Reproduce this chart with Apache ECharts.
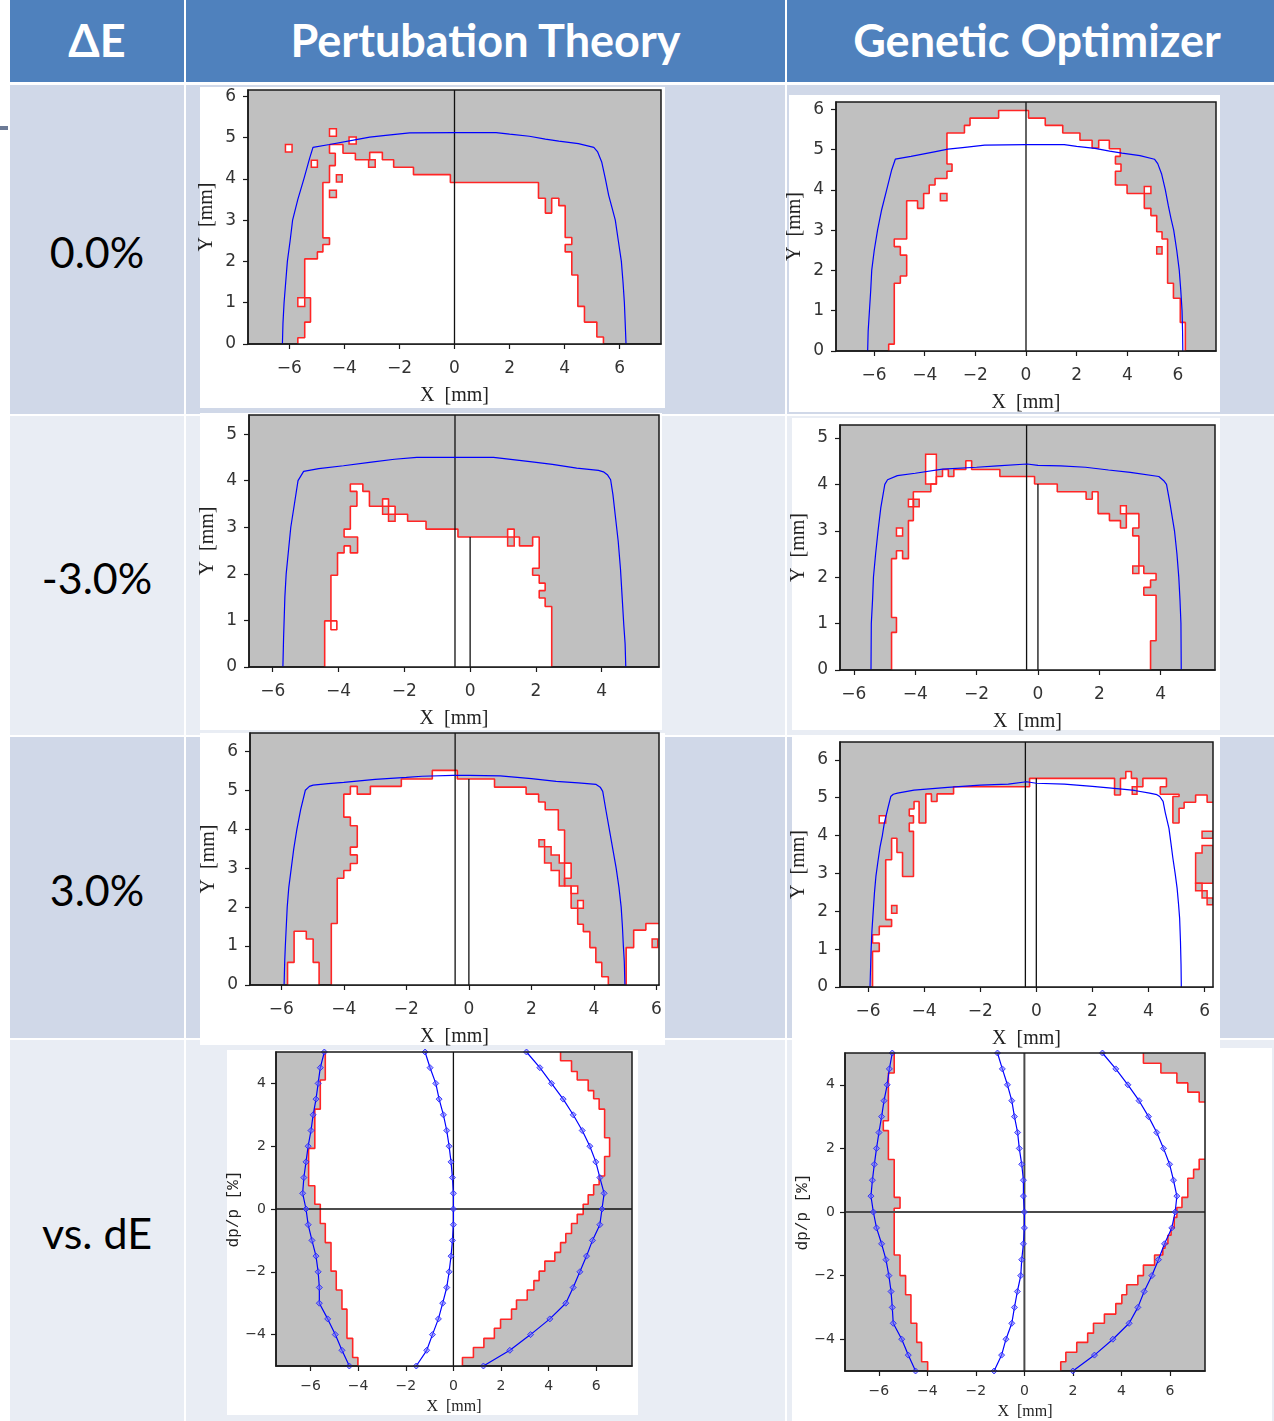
<!DOCTYPE html>
<html><head><meta charset="utf-8">
<script src="https://cdn.jsdelivr.net/npm/echarts@6/dist/echarts.min.js"></script>
<style>
html,body{margin:0;padding:0;}
body{width:1274px;height:1421px;position:relative;overflow:hidden;background:#fff;font-family:Lato,sans-serif;}
.c{position:absolute;box-sizing:border-box;}
.h{background:#4f81bd;color:#fff;font-weight:bold;font-size:45px;display:flex;align-items:center;justify-content:center;padding-bottom:3px;}
.d{background:#d0d8e8;}
.l{background:#e9edf4;}
.lab{font-size:43px;color:#000;display:flex;align-items:center;justify-content:center;padding-top:4px;}
.p{background:#fff;}
#chart{position:absolute;left:0;top:0;width:1274px;height:1421px;}
</style></head><body>
<div class="c h" style="left:10px;top:0;width:174px;height:82px;">ΔE</div>
<div class="c h" style="left:186px;top:0;width:599px;height:82px;">Pertubation Theory</div>
<div class="c h" style="left:787px;top:0;width:500px;height:82px;">Genetic Optimizer</div>

<div class="c d lab" style="left:10px;top:85px;width:174px;height:329px;">0.0%</div>
<div class="c d" style="left:186px;top:85px;width:599px;height:329px;"></div>
<div class="c d" style="left:787px;top:85px;width:500px;height:329px;"></div>

<div class="c l lab" style="left:10px;top:416px;width:174px;height:319px;">-3.0%</div>
<div class="c l" style="left:186px;top:416px;width:599px;height:319px;"></div>
<div class="c l" style="left:787px;top:416px;width:500px;height:319px;"></div>

<div class="c d lab" style="left:10px;top:737px;width:174px;height:301px;">3.0%</div>
<div class="c d" style="left:186px;top:737px;width:599px;height:301px;"></div>
<div class="c d" style="left:787px;top:737px;width:500px;height:301px;"></div>

<div class="c l lab" style="left:10px;top:1040px;width:174px;height:381px;">vs. dE</div>
<div class="c l" style="left:186px;top:1040px;width:599px;height:381px;"></div>
<div class="c l" style="left:787px;top:1040px;width:500px;height:381px;"></div>

<div class="c" style="left:0;top:126px;width:8px;height:4px;background:#6c7a96;"></div>

<div class="c p" style="left:200px;top:87px;width:465px;height:321px;"></div>
<div class="c p" style="left:789px;top:95px;width:431px;height:317px;"></div>
<div class="c p" style="left:200px;top:413px;width:462px;height:317px;"></div>
<div class="c p" style="left:792px;top:418px;width:428px;height:312px;"></div>
<div class="c p" style="left:200px;top:733px;width:465px;height:312px;"></div>
<div class="c p" style="left:792px;top:737px;width:428px;height:311px;"></div>
<div class="c p" style="left:227px;top:1050px;width:411px;height:365px;"></div>
<div class="c p" style="left:792px;top:1048px;width:480px;height:373px;"></div>

<div id="chart"></div>
<script>
// ---------- tick labels ----------
const xTicksWide = [-6,-4,-2,0,2,4,6];
const xTicksNarrow = [-6,-4,-2,0,2,4];
const yTicks6 = [0,1,2,3,4,5,6];
const yTicks5 = [0,1,2,3,4,5];
const dpTicks = [-4,-2,0,2,4];
const dpValues = [5,4.5,4,3.5,3,2.5,2,1.5,1,0.5,0,-0.5,-1,-1.5,-2,-2.5,-3,-3.5,-4,-4.5,-5];

// ---------- Perturbation theory, dE = 0.0% ----------
const pt0_boundary = [[-5.69,0],[-5.69,0.15],[-5.44,0.15],[-5.44,0.53],[-5.23,0.53],[-5.23,1.12],[-5.44,1.12],[-5.44,2.06],[-4.98,2.06],[-4.98,2.23],[-4.78,2.23],[-4.78,2.41],[-4.54,2.41],[-4.54,2.57],[-4.78,2.57],[-4.78,3.91],[-4.54,3.91],[-4.54,4.32],[-4.33,4.32],[-4.33,4.62],[-4.54,4.62],[-4.54,4.83],[-4.05,4.83],[-4.05,4.62],[-3.60,4.62],[-3.60,4.46],[-3.08,4.46],[-3.08,4.64],[-2.62,4.64],[-2.62,4.46],[-2.21,4.46],[-2.21,4.28],[-1.49,4.28],[-1.49,4.10],[-0.15,4.10],[-0.15,3.91],[3.05,3.91],[3.05,3.53],[3.30,3.53],[3.30,3.17],[3.53,3.17],[3.53,3.53],[3.79,3.53],[3.79,3.35],[4.02,3.35],[4.02,2.58],[4.26,2.58],[4.26,2.41],[4.02,2.41],[4.02,2.23],[4.26,2.23],[4.26,1.67],[4.48,1.67],[4.48,0.91],[4.72,0.91],[4.72,0.53],[5.17,0.53],[5.17,0.17],[5.41,0.17],[5.41,0]];
const pt0_whiteRects = [[-6.14,4.65,-5.90,4.83],[-5.20,4.28,-4.98,4.45],[-4.54,5.03,-4.29,5.21],[-3.83,4.84,-3.57,5.01],[-5.69,0.91,-5.44,1.12]];
const pt0_grayRects = [[-4.29,3.92,-4.08,4.10],[-4.54,3.55,-4.29,3.72],[-3.12,4.28,-2.88,4.46]];
const pt0_beam = [[-6.25,0],[-6.23,0.5],[-6.19,1],[-6.13,1.5],[-6.07,2],[-5.97,2.5],[-5.88,3],[-5.69,3.5],[-5.47,4],[-5.26,4.5],[-5.14,4.76],[-4.54,4.83],[-3.57,4.95],[-3.08,5.01],[-2.5,5.05],[-1.63,5.11],[0,5.12],[1.51,5.12],[2,5.08],[2.72,5.03],[3.3,4.96],[3.79,4.91],[4.5,4.85],[5.06,4.76],[5.2,4.65],[5.35,4.4],[5.48,4.0],[5.6,3.6],[5.72,3.3],[5.84,3.0],[5.95,2.5],[6.06,2.0],[6.12,1.5],[6.17,1.0],[6.2,0.5],[6.23,0]];
const pt0_guides = [[[0,0],[0,6.15]]];

// ---------- Genetic optimizer, dE = 0.0% ----------
const go0_boundary = [[-5.42,0],[-5.42,0.17],[-5.20,0.17],[-5.20,1.68],[-4.96,1.68],[-4.96,1.86],[-4.71,1.86],[-4.71,2.38],[-4.96,2.38],[-4.96,2.59],[-5.20,2.59],[-5.20,2.78],[-4.71,2.78],[-4.71,3.73],[-4.28,3.73],[-4.28,3.54],[-4.04,3.54],[-4.04,3.91],[-3.82,3.91],[-3.82,4.12],[-3.59,4.12],[-3.59,4.28],[-3.12,4.28],[-3.12,4.46],[-2.92,4.46],[-2.92,4.64],[-3.12,4.64],[-3.12,5.41],[-2.43,5.41],[-2.43,5.60],[-2.21,5.60],[-2.21,5.78],[-1.08,5.78],[-1.08,5.97],[0.10,5.97],[0.10,5.78],[0.76,5.78],[0.76,5.60],[1.45,5.60],[1.45,5.41],[2.13,5.41],[2.13,5.23],[2.61,5.23],[2.61,5.04],[2.87,5.04],[2.87,5.23],[3.29,5.23],[3.29,5.02],[3.72,5.02],[3.72,4.83],[3.53,4.83],[3.53,4.64],[3.75,4.64],[3.75,4.46],[3.53,4.46],[3.53,4.12],[3.99,4.12],[3.99,3.91],[4.67,3.91],[4.67,3.54],[4.93,3.54],[4.93,3.36],[5.16,3.36],[5.16,2.96],[5.37,2.96],[5.37,2.78],[5.59,2.78],[5.59,1.68],[5.82,1.68],[5.82,1.31],[6.09,1.31],[6.09,0.71],[6.29,0.71],[6.29,0]];
const go0_whiteRects = [[4.67,3.91,4.93,4.08]];
const go0_grayRects = [[-3.38,3.73,-3.12,3.91],[5.16,2.41,5.37,2.59]];
const go0_beam = [[-6.25,0],[-6.23,0.5],[-6.18,1],[-6.13,1.5],[-6.09,2],[-5.99,2.5],[-5.86,3],[-5.70,3.5],[-5.50,4],[-5.30,4.5],[-5.16,4.76],[-4.54,4.83],[-3.57,4.95],[-3.08,5.01],[-2.5,5.05],[-1.63,5.11],[0,5.12],[1.51,5.12],[2,5.08],[2.72,5.03],[3.3,4.96],[3.79,4.91],[4.5,4.85],[5.07,4.76],[5.2,4.65],[5.35,4.4],[5.5,4.0],[5.62,3.6],[5.72,3.3],[5.83,3.0],[5.95,2.5],[6.05,2.0],[6.11,1.5],[6.16,1.0],[6.18,0.5],[6.19,0]];
const go0_guides = [[[0,0],[0,6.18]]];

// ---------- Perturbation theory, dE = -3.0% ----------
const ptm3_boundary = [[-4.42,0],[-4.42,0.99],[-4.05,0.99],[-4.05,0.80],[-4.23,0.80],[-4.23,1.97],[-4.03,1.97],[-4.03,2.45],[-3.83,2.45],[-3.83,2.60],[-3.64,2.60],[-3.64,2.45],[-3.42,2.45],[-3.42,2.79],[-3.83,2.79],[-3.83,2.96],[-3.64,2.96],[-3.64,3.45],[-3.44,3.45],[-3.44,3.77],[-3.64,3.77],[-3.64,3.93],[-3.26,3.93],[-3.26,3.77],[-3.06,3.77],[-3.06,3.45],[-2.66,3.45],[-2.66,3.61],[-2.48,3.61],[-2.48,3.45],[-2.28,3.45],[-2.28,3.28],[-1.90,3.28],[-1.90,3.13],[-1.34,3.13],[-1.34,2.96],[-0.37,2.96],[-0.37,2.79],[1.14,2.79],[1.14,2.96],[1.34,2.96],[1.34,2.79],[1.50,2.79],[1.50,2.60],[1.90,2.60],[1.90,2.79],[2.10,2.79],[2.10,2.12],[1.90,2.12],[1.90,1.97],[2.10,1.97],[2.10,1.80],[2.28,1.80],[2.28,1.64],[2.10,1.64],[2.10,1.48],[2.28,1.48],[2.28,1.30],[2.48,1.30],[2.48,0]];
const ptm3_whiteRects = [];
const ptm3_grayRects = [[-2.66,3.28,-2.48,3.45],[-2.48,3.13,-2.28,3.28],[1.14,2.60,1.34,2.79]];
const ptm3_beam = [[-5.69,0],[-5.67,0.6],[-5.63,1.5],[-5.59,2],[-5.52,2.5],[-5.45,3],[-5.34,3.5],[-5.23,4.0],[-5.06,4.2],[-4.6,4.26],[-3.85,4.32],[-3,4.4],[-2.3,4.46],[-1.62,4.5],[0,4.5],[0.71,4.5],[1.82,4.41],[2.5,4.35],[3.24,4.27],[3.9,4.22],[4.05,4.19],[4.18,4.12],[4.27,4.02],[4.34,3.7],[4.42,3.2],[4.5,2.7],[4.57,2.1],[4.62,1.5],[4.67,0.9],[4.71,0.5],[4.73,0]];
const ptm3_guides = [[[-0.46,0],[-0.46,5.41]],[[0,0],[0,2.79]]];

// ---------- Genetic optimizer, dE = -3.0% ----------
const gom3_boundary = [[-4.77,0],[-4.77,0.81],[-4.61,0.81],[-4.61,1.13],[-4.77,1.13],[-4.77,2.40],[-4.61,2.40],[-4.61,2.57],[-4.41,2.57],[-4.41,2.40],[-4.22,2.40],[-4.22,3.22],[-4.06,3.22],[-4.06,3.84],[-3.49,3.84],[-3.49,4.01],[-3.31,4.01],[-3.31,4.17],[-3.11,4.17],[-3.11,4.32],[-2.92,4.32],[-2.92,4.17],[-2.74,4.17],[-2.74,4.32],[-2.35,4.32],[-2.35,4.51],[-2.16,4.51],[-2.16,4.32],[-1.24,4.32],[-1.24,4.17],[-0.11,4.17],[-0.11,4.01],[0.63,4.01],[0.63,3.84],[1.57,3.84],[1.57,3.68],[1.77,3.68],[1.77,3.84],[1.96,3.84],[1.96,3.37],[2.33,3.37],[2.33,3.22],[2.69,3.22],[2.69,3.06],[2.88,3.06],[2.88,3.37],[3.29,3.37],[3.29,3.06],[3.09,3.06],[3.09,2.89],[3.29,2.89],[3.29,2.24],[3.45,2.24],[3.45,2.08],[3.85,2.08],[3.85,1.94],[3.67,1.94],[3.67,1.78],[3.45,1.78],[3.45,1.61],[3.85,1.61],[3.85,0.63],[3.67,0.63],[3.67,0]];
const gom3_whiteRects = [[-3.66,4.01,-3.31,4.65],[-4.22,3.52,-4.06,3.68],[-4.61,2.89,-4.41,3.06],[2.69,3.37,2.88,3.54]];
const gom3_grayRects = [[-4.06,3.52,-3.87,3.68],[3.09,2.08,3.29,2.24]];
const gom3_beam = [[-5.44,0],[-5.43,1],[-5.39,1.5],[-5.36,2],[-5.29,2.5],[-5.21,3],[-5.12,3.5],[-4.99,4],[-4.9,4.1],[-4.58,4.19],[-4,4.24],[-3.11,4.33],[-2,4.37],[-1.32,4.40],[-0.35,4.44],[0,4.41],[0.74,4.40],[1.55,4.37],[2.3,4.31],[3.01,4.26],[3.94,4.17],[4.1,4.08],[4.19,4.0],[4.3,3.6],[4.45,3.0],[4.53,2.5],[4.59,2.0],[4.63,1.5],[4.66,1.0],[4.67,0]];
const gom3_guides = [[[-0.37,0],[-0.37,5.28]],[[0,0],[0,4.01]]];

// ---------- Perturbation theory, dE = 3.0% ----------
const pt3_boundary = [[-4.40,0],[-4.40,1.58],[-4.21,1.58],[-4.21,2.74],[-4.0,2.74],[-4.0,2.94],[-3.79,2.94],[-3.79,3.12],[-3.57,3.12],[-3.57,3.34],[-3.79,3.34],[-3.79,3.54],[-3.57,3.54],[-3.57,4.09],[-3.79,4.09],[-3.79,4.31],[-4.0,4.31],[-4.0,4.90],[-3.79,4.90],[-3.79,5.10],[-3.57,5.10],[-3.57,4.90],[-3.15,4.90],[-3.15,5.10],[-2.16,5.10],[-2.16,5.29],[-1.17,5.29],[-1.17,5.51],[-0.37,5.51],[-0.37,5.29],[0.82,5.29],[0.82,5.08],[1.83,5.08],[1.83,4.90],[2.23,4.90],[2.23,4.70],[2.44,4.70],[2.44,4.50],[2.86,4.50],[2.86,3.98],[3.06,3.98],[3.06,3.13],[3.27,3.13],[3.27,2.74],[3.06,2.74],[3.06,2.54],[3.27,2.54],[3.27,1.97],[3.48,1.97],[3.48,1.56],[3.66,1.56],[3.66,1.37],[3.87,1.37],[3.87,0.96],[4.06,0.96],[4.06,0.58],[4.25,0.58],[4.25,0.21],[4.46,0.21],[4.46,0]];
const pt3_bumpLeft = [[-5.80,0],[-5.80,0.58],[-5.59,0.58],[-5.59,1.38],[-5.20,1.38],[-5.20,1.18],[-4.98,1.18],[-4.98,0.58],[-4.79,0.58],[-4.79,0]];
const pt3_edgeRight = [[5.03,0],[5.03,0.96],[5.27,0.96],[5.27,1.41],[5.66,1.41],[5.66,1.58],[6.08,1.58]];
const pt3_whiteRects = [[3.27,2.35,3.48,2.54],[3.48,1.97,3.66,2.17]];
const pt3_grayRects = [[5.86,0.96,6.04,1.18]];
const pt3_grayPoly = [[2.24,3.73],[2.42,3.73],[2.42,3.55],[2.63,3.55],[2.63,3.34],[2.89,3.34],[2.89,3.13],[3.06,3.13],[3.06,2.54],[2.89,2.54],[2.89,2.94],[2.63,2.94],[2.63,3.13],[2.42,3.13],[2.42,3.55],[2.24,3.55]];
const pt3_beam = [[-5.91,0],[-5.89,0.6],[-5.87,1],[-5.84,1.5],[-5.81,2],[-5.76,2.5],[-5.68,3],[-5.60,3.5],[-5.50,4],[-5.38,4.5],[-5.23,5.0],[-5.1,5.1],[-4.98,5.13],[-4.5,5.17],[-4,5.2],[-3,5.28],[-2,5.33],[-1.5,5.36],[-0.5,5.38],[0,5.38],[1,5.37],[2,5.3],[2.79,5.23],[3.5,5.19],[4.07,5.15],[4.2,5.08],[4.28,4.97],[4.38,4.5],[4.49,4.0],[4.6,3.5],[4.71,3.0],[4.8,2.5],[4.87,2.0],[4.91,1.5],[4.94,1.0],[4.97,0.6],[4.99,0]];
const pt3_guides = [[[-0.44,0],[-0.44,6.47]],[[0,0],[0,5.29]]];

// ---------- Genetic optimizer, dE = 3.0% ----------
const go3_boundary = [[-5.84,0],[-5.84,0.94],[-5.60,0.94],[-5.60,1.16],[-5.84,1.16],[-5.84,1.38],[-5.60,1.38],[-5.60,1.60],[-5.16,1.60],[-5.16,1.78],[-5.37,1.78],[-5.37,3.36],[-5.16,3.36],[-5.16,3.93],[-4.97,3.93],[-4.97,3.55],[-4.77,3.55],[-4.77,2.92],[-4.38,2.92],[-4.38,4.11],[-4.53,4.11],[-4.53,4.33],[-4.38,4.33],[-4.38,4.52],[-4.53,4.52],[-4.53,4.70],[-4.36,4.70],[-4.36,4.90],[-4.18,4.90],[-4.18,4.33],[-3.94,4.33],[-3.94,5.10],[-3.74,5.10],[-3.74,4.90],[-3.54,4.90],[-3.54,5.10],[-2.95,5.10],[-2.95,5.29],[-0.24,5.29],[-0.24,5.51],[2.79,5.51],[2.79,5.07],[3.0,5.07],[3.0,5.51],[3.19,5.51],[3.19,5.69],[3.39,5.69],[3.39,5.51],[3.59,5.51],[3.59,5.29],[3.80,5.29],[3.80,5.51],[4.64,5.51],[4.64,5.29],[4.42,5.29],[4.42,5.09],[5.09,5.09],[5.09,5.03],[4.87,5.03],[4.87,4.33],[5.09,4.33],[5.09,4.72],[5.27,4.72],[5.27,4.88],[5.68,4.88],[5.68,5.07],[6.09,5.07],[6.09,4.88],[6.3,4.88]];
const go3_whiteRects = [[-5.60,4.33,-5.37,4.52]];
const go3_grayRects = [[-5.16,1.95,-4.97,2.15],[3.42,5.09,3.59,5.29],[5.91,3.93,6.3,4.11],[5.68,2.54,5.91,2.74],[5.91,2.35,6.09,2.54],[6.09,2.17,6.3,2.35]];
const go3_grayPoly = [[6.3,3.74],[5.91,3.74],[5.91,3.54],[5.68,3.54],[5.68,2.74],[6.3,2.74]];
const go3_beam = [[-5.93,0],[-5.91,0.5],[-5.89,1],[-5.86,1.5],[-5.82,1.95],[-5.77,2.5],[-5.72,2.92],[-5.65,3.3],[-5.57,3.71],[-5.49,4.0],[-5.42,4.33],[-5.28,4.76],[-5.19,5.03],[-5.1,5.09],[-4.95,5.12],[-4.36,5.2],[-3.16,5.27],[-2,5.33],[-1,5.36],[-0.35,5.42],[0,5.38],[1,5.36],[2,5.3],[2.97,5.23],[3.5,5.19],[4.04,5.12],[4.3,5.08],[4.40,5.03],[4.52,4.90],[4.6,4.6],[4.73,4.19],[4.8,3.8],[4.87,3.40],[4.95,3.0],[5.02,2.61],[5.07,2.2],[5.11,1.82],[5.14,1.2],[5.16,0.6],[5.17,0]];
const go3_guides = [[[-0.39,0],[-0.39,6.47]],[[0,0],[0,5.51]]];

// ---------- Perturbation theory, vs. dE ----------
const ptdE_left = [[-5.38,5],[-5.38,4.11],[-5.59,4.11],[-5.59,3.18],[-5.82,3.18],[-5.82,1.93],[-6.08,1.93],[-6.08,0.74],[-5.82,0.74],[-5.82,0.15],[-5.59,0.15],[-5.59,-0.46],[-5.38,-0.46],[-5.38,-1.07],[-5.14,-1.07],[-5.14,-1.98],[-4.92,-1.98],[-4.92,-2.58],[-4.68,-2.58],[-4.68,-3.19],[-4.47,-3.19],[-4.47,-4.12],[-4.23,-4.12],[-4.23,-4.73],[-4.01,-4.73],[-4.01,-5]];
const ptdE_right = [[4.50,5],[4.50,4.72],[4.96,4.72],[4.96,4.38],[5.20,4.38],[5.20,4.11],[5.66,4.11],[5.66,3.77],[5.89,3.77],[5.89,3.51],[6.12,3.51],[6.12,3.18],[6.35,3.18],[6.35,2.27],[6.56,2.27],[6.56,1.67],[6.35,1.67],[6.35,1.05],[6.12,1.05],[6.12,0.77],[5.89,0.77],[5.89,0.45],[5.66,0.45],[5.66,0.15],[5.45,0.15],[5.45,-0.17],[5.20,-0.17],[5.20,-0.46],[4.96,-0.46],[4.96,-0.78],[4.72,-0.78],[4.72,-1.07],[4.50,-1.07],[4.50,-1.38],[4.26,-1.38],[4.26,-1.66],[3.84,-1.66],[3.84,-1.98],[3.60,-1.98],[3.60,-2.28],[3.38,-2.28],[3.38,-2.58],[3.10,-2.58],[3.10,-2.90],[2.65,-2.90],[2.65,-3.19],[2.44,-3.19],[2.44,-3.51],[1.98,-3.51],[1.98,-3.80],[1.72,-3.80],[1.72,-4.12],[1.28,-4.12],[1.28,-4.41],[0.84,-4.41],[0.84,-4.73],[0.38,-4.73],[0.38,-5]];
const ptdE_xLeft = [-5.42,-5.59,-5.68,-5.77,-5.89,-5.98,-6.10,-6.19,-6.28,-6.33,-6.19,-6.10,-5.94,-5.77,-5.68,-5.63,-5.63,-5.28,-4.96,-4.68,-4.37];
const ptdE_xCenter = [-1.19,-0.98,-0.74,-0.60,-0.42,-0.28,-0.18,-0.10,-0.04,0,0,0,-0.04,-0.10,-0.18,-0.28,-0.45,-0.63,-0.88,-1.12,-1.56];
const ptdE_xRight = [3.07,3.63,4.12,4.61,5.03,5.41,5.73,5.98,6.15,6.33,6.24,6.15,5.84,5.59,5.31,5.03,4.72,4.05,3.24,2.37,1.26];
const ptdE_guides = [[[0,-5],[0,5]],[[-7.45,0],[7.5,0]]];

// ---------- Genetic optimizer, vs. dE ----------
const godE_left = [[-5.37,5],[-5.37,4.37],[-5.61,4.37],[-5.61,2.87],[-5.82,2.87],[-5.82,2.56],[-5.61,2.56],[-5.61,1.65],[-5.37,1.65],[-5.37,0.46],[-5.13,0.46],[-5.13,0.12],[-5.37,0.12],[-5.37,-1.35],[-5.13,-1.35],[-5.13,-2.0],[-4.90,-2.0],[-4.90,-2.60],[-4.68,-2.60],[-4.68,-3.50],[-4.44,-3.50],[-4.44,-4.10],[-4.24,-4.10],[-4.24,-4.71],[-3.99,-4.71],[-3.99,-5]];
const godE_rightTop = [[4.91,5],[4.91,4.68],[5.63,4.68],[5.63,4.37],[6.29,4.37],[6.29,4.06],[6.74,4.06],[6.74,3.77],[7.21,3.77],[7.21,3.46],[7.45,3.46]];
const godE_rightBottom = [[7.45,1.66],[7.21,1.66],[7.21,1.34],[6.98,1.34],[6.98,1.06],[6.74,1.06],[6.74,0.46],[6.50,0.46],[6.50,0.14],[6.29,0.14],[6.29,-0.17],[6.18,-0.17],[6.18,-0.5],[6.05,-0.5],[6.05,-0.73],[5.92,-0.73],[5.92,-1.0],[5.80,-1.0],[5.80,-1.14],[5.71,-1.14],[5.71,-1.35],[5.37,-1.35],[5.37,-1.67],[4.91,-1.67],[4.91,-2.0],[4.68,-2.0],[4.68,-2.29],[4.22,-2.29],[4.22,-2.60],[4.02,-2.60],[4.02,-2.88],[3.77,-2.88],[3.77,-3.21],[3.30,-3.21],[3.30,-3.50],[2.85,-3.50],[2.85,-3.81],[2.61,-3.81],[2.61,-4.10],[2.16,-4.10],[2.16,-4.41],[1.71,-4.41],[1.71,-4.71],[1.50,-4.71],[1.50,-5]];
const godE_xLeft = [-5.45,-5.57,-5.66,-5.79,-5.89,-6.0,-6.10,-6.19,-6.27,-6.33,-6.23,-6.10,-5.89,-5.71,-5.59,-5.50,-5.45,-5.41,-5.06,-4.79,-4.49];
const godE_xCenter = [-1.11,-0.91,-0.70,-0.52,-0.41,-0.28,-0.21,-0.11,-0.04,-0.04,0,0,-0.04,-0.11,-0.15,-0.29,-0.41,-0.52,-0.76,-0.94,-1.25];
const godE_xRight = [3.22,3.77,4.27,4.73,5.12,5.46,5.74,5.99,6.15,6.29,6.22,6.08,5.78,5.53,5.26,4.94,4.68,4.32,3.65,2.89,2.0];
const godE_guides = [[[0,-5],[0,5]],[[-7.4,0],[7.45,0]]];

// ---------- helpers ----------
const RED = '#ff2525', BLUE = '#0000ff', GRAY = '#c0c0c0';
const rectPoly = r => [[r[0],r[1]],[r[2],r[1]],[r[2],r[3]],[r[0],r[3]]];
const zip = (xs, ys) => xs.map((x, k) => [x, ys[k]]);
const fmt = v => (v < 0 ? '\u2212' + Math.abs(v) : String(v));

function polySeries(i, polys, fill, stroke, z) {
  return {
    type: 'custom', xAxisIndex: i, yAxisIndex: i, z: z, silent: true, clip: true, animation: false,
    data: polys.map(() => [0, 0]),
    renderItem: (params, api) => {
      const pts = polys[params.dataIndex].map(p => api.coord(p));
      return { type: 'polygon', shape: { points: pts },
        style: { fill: fill, stroke: stroke || null, lineWidth: stroke ? 1.5 : 0 } };
    }
  };
}
function lineSeries(i, pts, color, width, z, extra) {
  return Object.assign({
    type: 'line', xAxisIndex: i, yAxisIndex: i, data: pts, showSymbol: false, symbol: 'none',
    lineStyle: { color: color, width: width }, z: z, silent: true, animation: false, clip: true
  }, extra || {});
}
function frameSeries(i, xr, yr) {
  return {
    type: 'custom', xAxisIndex: i, yAxisIndex: i, z: 50, silent: true, clip: false,
    data: [[xr[0], yr[0]]],
    renderItem: (p, api) => {
      const a = api.coord([xr[0], yr[1]]), b = api.coord([xr[1], yr[0]]);
      return { type: 'rect', shape: { x: a[0], y: a[1], width: b[0] - a[0], height: b[1] - a[1] },
        style: { fill: null, stroke: '#1a1a1a', lineWidth: 1.5 } };
    }
  };
}

// layout of each panel
const charts = [
  { g:[248,90,413,254], x:[-7.5,7.5], y:[0,6.15], xt:xTicksWide, yt:yTicks6, top:true,
    fills:[pt0_boundary], reds:[pt0_boundary], white:pt0_whiteRects, gray:pt0_grayRects, grayPolys:[],
    beams:[pt0_beam], guides:pt0_guides },
  { g:[836,102,380,249], x:[-7.5,7.5], y:[0,6.18], xt:xTicksWide, yt:yTicks6, top:true,
    fills:[go0_boundary], reds:[go0_boundary], white:go0_whiteRects, gray:go0_grayRects, grayPolys:[],
    beams:[go0_beam], guides:go0_guides },
  { g:[249,415,410,252], x:[-6.72,5.74], y:[0,5.41], xt:xTicksNarrow, yt:yTicks5, top:true,
    fills:[ptm3_boundary], reds:[ptm3_boundary], white:ptm3_whiteRects, gray:ptm3_grayRects, grayPolys:[],
    beams:[ptm3_beam], guides:ptm3_guides },
  { g:[840,425,375,245], x:[-6.45,5.77], y:[0,5.28], xt:xTicksNarrow, yt:yTicks5, top:true,
    fills:[gom3_boundary], reds:[gom3_boundary], white:gom3_whiteRects, gray:gom3_grayRects, grayPolys:[],
    beams:[gom3_beam], guides:gom3_guides },
  { g:[250,733,409,252], x:[-7.0,6.08], y:[0,6.47], xt:xTicksWide, yt:yTicks6, top:true,
    fills:[pt3_boundary, pt3_bumpLeft, pt3_edgeRight.concat([[6.08,0]])], reds:[pt3_boundary, pt3_bumpLeft, pt3_edgeRight],
    white:pt3_whiteRects, gray:pt3_grayRects, grayPolys:[pt3_grayPoly], beams:[pt3_beam], guides:pt3_guides },
  { g:[840,742,373,245], x:[-7.0,6.3], y:[0,6.47], xt:xTicksWide, yt:yTicks6, top:true,
    fills:[go3_boundary.concat([[6.3,0]])], reds:[go3_boundary], white:go3_whiteRects, gray:go3_grayRects,
    grayPolys:[go3_grayPoly], beams:[go3_beam], guides:go3_guides },
  { g:[276,1052,356,314], x:[-7.45,7.5], y:[-5,5], xt:xTicksWide, yt:dpTicks, top:false,
    fills:[ptdE_left.concat(ptdE_right.slice().reverse())], reds:[ptdE_left, ptdE_right], white:[], gray:[], grayPolys:[],
    beams:[zip(ptdE_xLeft, dpValues), zip(ptdE_xCenter, dpValues), zip(ptdE_xRight, dpValues)], guides:ptdE_guides },
  { g:[845,1053,360,322], x:[-7.4,7.45], y:[-5,5], xt:xTicksWide, yt:dpTicks, top:false, darkGuide:true,
    fills:[godE_left.concat(godE_rightBottom.slice().reverse(), godE_rightTop.slice().reverse())],
    reds:[godE_left, godE_rightTop, godE_rightBottom], white:[], gray:[], grayPolys:[],
    beams:[zip(godE_xLeft, dpValues), zip(godE_xCenter, dpValues), zip(godE_xRight, dpValues)], guides:godE_guides }
];

const option = { animation: false, grid: [], xAxis: [], yAxis: [], series: [] };
charts.forEach((c, i) => {
  const fs = c.top ? 17 : 14;
  option.grid.push({ left: c.g[0], top: c.g[1], width: c.g[2], height: c.g[3], show: true,
    backgroundColor: GRAY, borderWidth: 0 });
  const axisCommon = (ticks, margin, nameFont, nameSize) => ({
    axisLine: { show: true, onZero: false, lineStyle: { color: '#1a1a1a', width: 1.5 } },
    axisTick: { show: true, customValues: ticks, length: 5, lineStyle: { color: '#1a1a1a', width: 1.2 } },
    axisLabel: { customValues: ticks, formatter: fmt, fontFamily: 'DejaVu Sans', fontSize: fs, color: '#333', margin: margin },
    splitLine: { show: false },
    nameLocation: 'middle',
    nameTextStyle: { fontFamily: nameFont, fontSize: nameSize, color: '#222' }
  });
  option.xAxis.push(Object.assign({ type: 'value', gridIndex: i, min: c.x[0], max: c.x[1],
    name: 'X  [mm]', nameGap: c.top ? 42 : 33 },
    axisCommon(c.xt, c.top ? 16 : 13, 'Liberation Serif', c.top ? 20 : 16)));
  option.yAxis.push(Object.assign({ type: 'value', gridIndex: i, min: c.y[0], max: c.y[1],
    name: c.top ? 'Y  [mm]' : 'dp/p [%]', nameGap: c.top ? 31 : 34 },
    axisCommon(c.yt, c.top ? 12 : 10, c.top ? 'Liberation Serif' : 'Liberation Mono', c.top ? 20 : 16)));

  option.series.push(polySeries(i, c.fills, '#ffffff', null, 2));
  if (c.grayPolys.length) option.series.push(polySeries(i, c.grayPolys, GRAY, RED, 3));
  if (c.gray.length) option.series.push(polySeries(i, c.gray.map(rectPoly), GRAY, RED, 3));
  if (c.white.length) option.series.push(polySeries(i, c.white.map(rectPoly), '#ffffff', RED, 3));
  c.reds.forEach(r => option.series.push(lineSeries(i, r, RED, 1.6, 4)));
  c.guides.forEach(gd => option.series.push(lineSeries(i, gd, c.darkGuide ? '#4a4a4a' : '#111', c.darkGuide ? 2 : 1.3, 5)));
  c.beams.forEach(b => option.series.push(lineSeries(i, b, BLUE, 1.2, 6, c.top ? {} : {
    showSymbol: true, symbol: 'diamond', symbolSize: 6,
    itemStyle: { color: 'rgba(110,110,255,0.55)', borderColor: '#1a1aff', borderWidth: 0.8 }
  })));
  option.series.push(frameSeries(i, c.x, c.y));
});

const chart = echarts.init(document.getElementById('chart'), null, { renderer: 'canvas' });
chart.setOption(option);
</script>
</body></html>
